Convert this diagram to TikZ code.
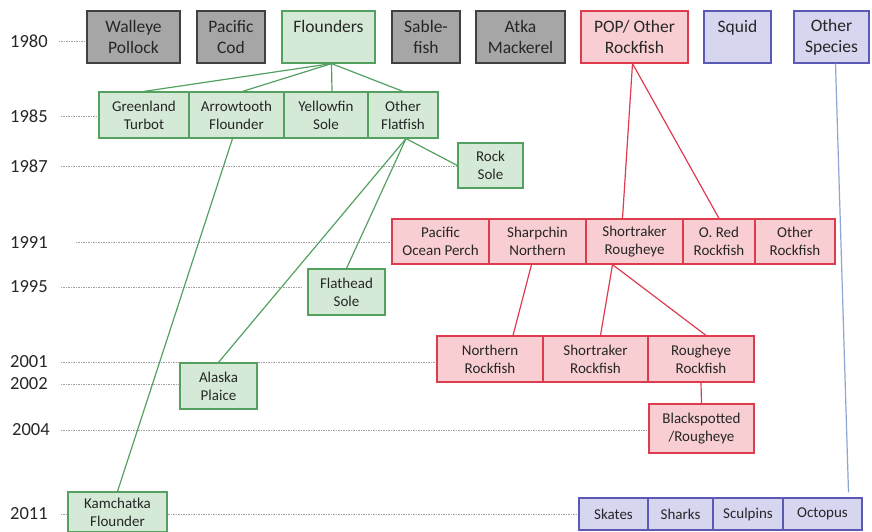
\documentclass[tikz,border=0pt]{standalone}
\usepackage{fontspec}
\setmainfont{Carlito}
\usetikzlibrary{backgrounds}
\definecolor{ink}{RGB}{38,38,38}
\definecolor{boxgrey}{RGB}{166,166,166}
\definecolor{edgegrey}{RGB}{64,64,64}
\definecolor{flatfill}{RGB}{213,234,214}
\definecolor{flatedge}{RGB}{84,160,96}
\definecolor{rockfill}{RGB}{248,206,210}
\definecolor{rockedge}{RGB}{222,60,78}
\definecolor{miscfill}{RGB}{214,214,240}
\definecolor{miscedge}{RGB}{90,90,180}
\definecolor{misclink}{RGB}{140,165,210}
\definecolor{dotgrey}{RGB}{160,160,160}

\begin{document}
\begin{tikzpicture}[x=1pt, y=-1pt,
    box/.style={draw, line width=1.2pt, align=center, inner sep=0pt, text=ink},
    topbox/.style={box, minimum height=52pt, font=\fontsize{17.5}{21}\selectfont},
    cell/.style={box, font=\fontsize{15}{18}\selectfont},
    grnd/.style={fill=boxgrey, draw=edgegrey},
    flat/.style={fill=flatfill, draw=flatedge},
    rock/.style={fill=rockfill, draw=rockedge},
    misc/.style={fill=miscfill, draw=miscedge},
    year/.style={anchor=west, inner sep=0pt, text=ink, font=\fontsize{18.5}{20}\selectfont},
    yline/.style={draw=dotgrey, line width=0.8pt, dash pattern=on 1.5pt off 1pt},
    link/.style={line width=1.2pt}]
    \useasboundingbox (0,0) rectangle (872,532);

    % years
    \node[year] (y80) at (10,41) {1980};
    \node[year] (y85) at (10,116) {1985};
    \node[year] (y87) at (10,166) {1987};
    \node[year] (y91) at (10,242) {1991};
    \node[year] (y95) at (10,287) {1995};
    \node[year] (y01) at (10,362) {2001};
    \node[year] (y02) at (10,384) {2002};
    \node[year] (y04) at (12,430) {2004};
    \node[year] (y11) at (10,514) {2011};

    % 1980 groups
    \node[topbox, grnd, minimum width=93pt] (wp) at (133.5,37) {Walleye\\Pollock};
    \node[topbox, grnd, minimum width=68pt] (pc) at (231,37) {Pacific\\Cod};
    \node[topbox, flat, minimum width=93pt] (fl) at (328.5,37) {Flounders\\\mbox{}};
    \node[topbox, grnd, minimum width=68pt] (sf) at (426,37) {Sable-\\fish};
    \node[topbox, grnd, minimum width=89pt] (am) at (520.5,37) {Atka\\Mackerel};
    \node[topbox, rock, minimum width=107pt] (pop) at (634.5,37) {POP/ Other\\Rockfish};
    \node[topbox, misc, minimum width=67pt] (sq) at (737.5,37) {Squid\\\mbox{}};
    \node[topbox, misc, minimum width=75pt] (os) at (831.5,37) {Other\\Species};

    % flatfish
    \node[cell, flat, minimum width=90pt, minimum height=46pt] (gt) at (144,115) {Greenland\\Turbot};
    \node[cell, flat, minimum width=95pt, minimum height=46pt] (at) at (236.5,115) {Arrowtooth\\Flounder};
    \node[cell, flat, minimum width=84pt, minimum height=46pt] (ys) at (326,115) {Yellowfin\\Sole};
    \node[cell, flat, minimum width=70pt, minimum height=46pt] (of) at (403,115) {Other\\Flatfish};
    \node[cell, flat, minimum width=65pt, minimum height=45pt] (rs) at (490.5,165.5) {Rock\\Sole};
    \node[cell, flat, minimum width=77pt, minimum height=46pt] (fh) at (346.5,292) {Flathead\\Sole};
    \node[cell, flat, minimum width=77pt, minimum height=46pt] (ap) at (218.5,386) {Alaska\\Plaice};
    \node[cell, flat, minimum width=99pt, minimum height=40pt] (kf) at (117.5,512) {Kamchatka\\Flounder};

    % rockfish
    \node[cell, rock, minimum width=97pt, minimum height=45pt] (po) at (440.5,241.5) {Pacific\\Ocean Perch};
    \node[cell, rock, minimum width=97pt, minimum height=45pt] (sn) at (537.5,241.5) {Sharpchin\\Northern};
    \node[cell, rock, minimum width=97pt, minimum height=45pt] (sre) at (634.5,241.5) {Shortraker\\Rougheye};
    \node[cell, rock, minimum width=72pt, minimum height=45pt] (orr) at (719,241.5) {O. Red\\Rockfish};
    \node[cell, rock, minimum width=80pt, minimum height=45pt] (otr) at (795,241.5) {Other\\Rockfish};
    \node[cell, rock, minimum width=106pt, minimum height=46pt] (nr) at (490,359) {Northern\\Rockfish};
    \node[cell, rock, minimum width=105pt, minimum height=46pt] (shr) at (595.5,359) {Shortraker\\Rockfish};
    \node[cell, rock, minimum width=106pt, minimum height=46pt] (rr) at (701,359) {Rougheye\\Rockfish};
    \node[cell, rock, minimum width=105pt, minimum height=49pt] (bs) at (701.5,428.5) {Blackspotted\\/Rougheye};

    % other species
    \node[cell, misc, minimum width=69pt, minimum height=32pt] (sk) at (613.5,514) {Skates};
    \node[cell, misc, minimum width=65pt, minimum height=32pt] (sh) at (680.5,514) {Sharks};
    \node[cell, misc, minimum width=70pt, minimum height=32pt] (sc) at (748,514) {Sculpins};
    \node[cell, misc, minimum width=79pt, minimum height=32pt] (oc) at (822.5,514) {Octopus};

    \begin{pgfonlayer}{background}
        \draw[yline] ([xshift=11pt]y80.east) -- (y80.east -| wp.west);
        \draw[yline] ([xshift=13pt]y85.east) -- (y85.east -| gt.west);
        \draw[yline] ([xshift=13pt]y87.east) -- (y87.east -| rs.west);
        \draw[yline] ([xshift=28pt]y91.east) -- (y91.east -| po.west);
        \draw[yline] ([xshift=13pt]y95.east) -- ([xshift=-6pt]y95.east -| fh.west);
        \draw[yline] ([xshift=13pt]y01.east) -- (y01.east -| nr.west);
        \draw[yline] ([xshift=13pt]y02.east) -- (y02.east -| ap.west);
        \draw[yline] ([xshift=11pt]y04.east) -- (y04.east -| bs.west);
        \draw[yline] ([xshift=13pt]y11.east) -- (y11.east -| sk.west);
    \end{pgfonlayer}

    % splits
    \draw[link, flatedge] ([xshift=3pt]fl.south) -- (gt.north);
    \draw[link, flatedge] ([xshift=3pt]fl.south) -- ([xshift=6pt]at.north);
    \draw[link, flatedge] ([xshift=3pt]fl.south) -- ([xshift=6pt]ys.north);
    \draw[link, flatedge] ([xshift=3pt]fl.south) -- (of.north);
    \draw[link, flatedge] ([xshift=3pt]of.south) -- (rs.west);
    \draw[link, flatedge] ([xshift=3pt]of.south) -- (fh.north);
    \draw[link, flatedge] ([xshift=3pt]of.south) -- (ap.north);
    \draw[link, flatedge] ([xshift=-4pt]at.south) -- (kf.north);

    \draw[link, rockedge] ([xshift=-2pt]pop.south) -- ([xshift=-12pt]sre.north);
    \draw[link, rockedge] ([xshift=-2pt]pop.south) -- (orr.north);
    \draw[link, rockedge] ([xshift=-6pt]sn.south) -- ([xshift=23pt]nr.north);
    \draw[link, rockedge] ([xshift=-22pt]sre.south) -- ([xshift=5pt]shr.north);
    \draw[link, rockedge] ([xshift=-22pt]sre.south) -- ([xshift=5pt]rr.north);
    \draw[link, rockedge] (rr.south) -- (bs.north);

    \draw[link, misclink] ([xshift=4pt]os.south) -- ([xshift=26pt, yshift=5pt]oc.north);
\end{tikzpicture}
\end{document}
